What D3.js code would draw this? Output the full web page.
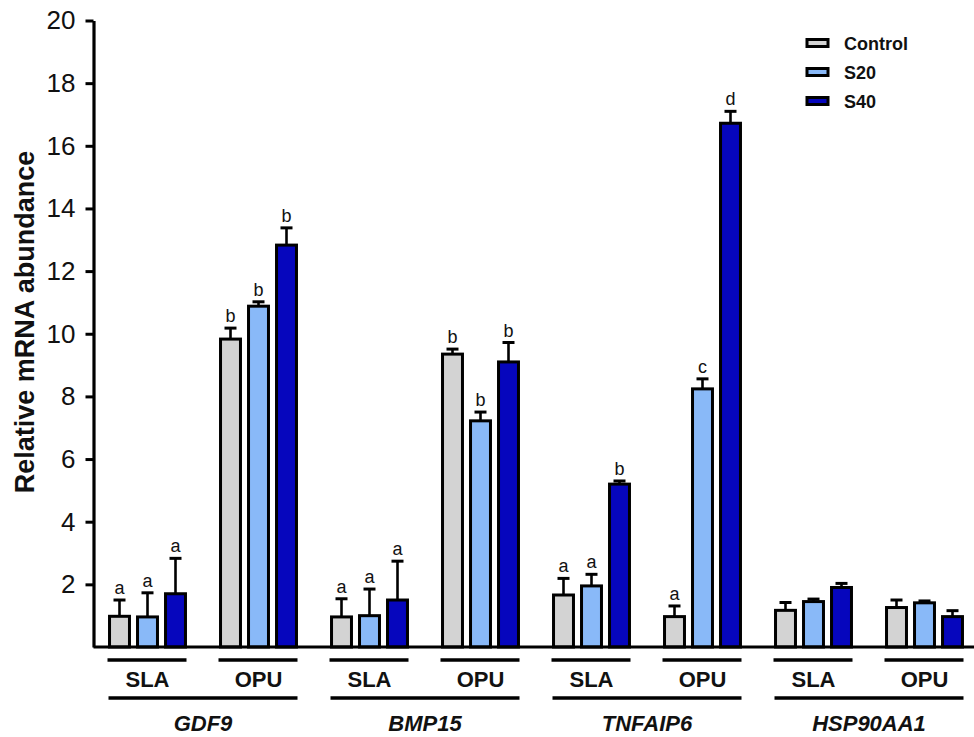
<!DOCTYPE html>
<html>
<head>
<meta charset="utf-8">
<script src="https://cdn.jsdelivr.net/npm/d3@7"></script>
<style>
  body { margin: 0; background: #fff; }
  svg { font-family: "Liberation Sans", Arial, sans-serif; }
</style>
</head>
<body>
<svg id="chart" width="974" height="737"></svg>
<script>
// groups: GDF9 SLA, GDF9 OPU, BMP15 SLA, BMP15 OPU, TNFAIP6 SLA, TNFAIP6 OPU, HSP90AA1 SLA, HSP90AA1 OPU
const genes = ["GDF9", "BMP15", "TNFAIP6", "HSP90AA1"];
const sites = ["SLA", "OPU"];
const series = ["Control", "S20", "S40"];
const colors = ["#d3d3d3", "#89b9f8", "#0606bd"];
const yTicks = [2, 4, 6, 8, 10, 12, 14, 16, 18, 20];

const controlMean = [0.98, 9.83, 0.96, 9.35, 1.66, 0.97, 1.17, 1.26];
const controlSem  = [0.52, 0.35, 0.58, 0.16, 0.53, 0.34, 0.25, 0.24];
const s20Mean = [0.96, 10.88, 1.0, 7.22, 1.95, 8.24, 1.45, 1.41];
const s20Sem  = [0.77, 0.14, 0.85, 0.28, 0.37, 0.32, 0.08, 0.06];
const s40Mean = [1.7, 12.83, 1.5, 9.1, 5.2, 16.72, 1.9, 0.97];
const s40Sem  = [1.13, 0.55, 1.24, 0.62, 0.1, 0.38, 0.13, 0.19];

const controlLetters = ["a", "b", "a", "b", "a", "a", "", ""];
const s20Letters = ["a", "b", "a", "b", "a", "c", "", ""];
const s40Letters = ["a", "b", "a", "b", "b", "d", "", ""];

const groups = [];
genes.forEach(g => sites.forEach(s => groups.push(g + "|" + s)));
const means = [controlMean, s20Mean, s40Mean];
const sems = [controlSem, s20Sem, s40Sem];
const letters = [controlLetters, s20Letters, s40Letters];

const data = [];
groups.forEach((grp, i) => {
  series.forEach((s, j) => {
    data.push({ group: grp, series: s, color: colors[j], mean: means[j][i], sem: sems[j][i], letter: letters[j][i] });
  });
});

const svg = d3.select("#chart");
const axisX = 93.5;

const x0 = d3.scaleBand().domain(groups).range([92, 980]);
const x1 = d3.scaleBand().domain(series).range([-42, 42]).paddingInner(0.18).paddingOuter(0.09);
const y = d3.scaleLinear().domain([0, 20]).range([647, 20.5]);
const cx = d => x0(d.group) + x0.bandwidth() / 2 + x1(d.series) + x1.bandwidth() / 2;

// y axis
const yAxis = d3.axisLeft(y).tickValues(yTicks).tickSize(8).tickSizeOuter(0).tickPadding(10);
const yg = svg.append("g").attr("transform", `translate(${axisX},0)`).call(yAxis);
yg.select(".domain").attr("stroke", "#000").attr("stroke-width", 3.2);
yg.selectAll(".tick line").attr("stroke", "#000").attr("stroke-width", 3);
yg.selectAll(".tick text").attr("font-size", 26).attr("fill", "#111").attr("font-family", "Liberation Sans, Arial, sans-serif");

svg.append("text")
  .attr("transform", `translate(34,322) rotate(-90)`)
  .attr("text-anchor", "middle")
  .attr("font-size", 27)
  .attr("font-weight", "bold")
  .attr("fill", "#111")
  .text("Relative mRNA abundance");

// error bars
const errs = svg.append("g").selectAll("g").data(data.filter(d => d.sem > 0)).join("g");
errs.append("line")
  .attr("x1", cx).attr("x2", cx)
  .attr("y1", d => y(d.mean))
  .attr("y2", d => y(d.mean + d.sem))
  .attr("stroke", "#000").attr("stroke-width", 2.6);
errs.append("line")
  .attr("x1", d => cx(d) - 6)
  .attr("x2", d => cx(d) + 6)
  .attr("y1", d => y(d.mean + d.sem))
  .attr("y2", d => y(d.mean + d.sem))
  .attr("stroke", "#000").attr("stroke-width", 3);

// bars
svg.append("g").selectAll("rect").data(data).join("rect")
  .attr("x", d => x0(d.group) + x0.bandwidth() / 2 + x1(d.series) + 1.5)
  .attr("y", d => y(d.mean))
  .attr("width", x1.bandwidth() - 3)
  .attr("height", d => y(0) - y(d.mean))
  .attr("fill", d => d.color)
  .attr("stroke", "#000")
  .attr("stroke-width", 3);

// significance letters
svg.append("g").selectAll("text").data(data.filter(d => d.letter)).join("text")
  .attr("x", cx)
  .attr("y", d => y(d.mean + d.sem) - 6)
  .attr("text-anchor", "middle")
  .attr("font-size", 18)
  .attr("fill", "#111")
  .text(d => d.letter);

// x baseline
svg.append("line")
  .attr("x1", axisX).attr("x2", 974)
  .attr("y1", y(0)).attr("y2", y(0))
  .attr("stroke", "#000").attr("stroke-width", 3.2);

// site underlines and labels
const siteG = svg.append("g").selectAll("g").data(groups).join("g")
  .attr("transform", d => `translate(${x0(d) + x0.bandwidth() / 2},0)`);
siteG.append("line")
  .attr("x1", -40).attr("x2", 39).attr("y1", 660).attr("y2", 660)
  .attr("stroke", "#000").attr("stroke-width", 3.3);
siteG.append("text")
  .attr("y", 687)
  .attr("text-anchor", "middle")
  .attr("font-size", 22)
  .attr("font-weight", "bold")
  .attr("fill", "#111")
  .text(d => d.split("|")[1]);

// gene underlines and labels
const geneG = svg.append("g").selectAll("g").data(genes).join("g");
geneG.append("line")
  .attr("x1", g => x0(g + "|SLA") + x0.bandwidth() / 2 - 39)
  .attr("x2", g => x0(g + "|OPU") + x0.bandwidth() / 2 + 39)
  .attr("y1", 698).attr("y2", 698)
  .attr("stroke", "#000").attr("stroke-width", 3.3);
geneG.append("text")
  .attr("x", g => x0(g + "|SLA") + x0.bandwidth())
  .attr("y", 731)
  .attr("text-anchor", "middle")
  .attr("font-size", 22)
  .attr("font-weight", "bold")
  .attr("font-style", "italic")
  .attr("fill", "#111")
  .text(g => g);

// legend
const leg = svg.append("g").selectAll("g").data(series).join("g")
  .attr("transform", (d, i) => `translate(807,${43 + i * 29})`);
leg.append("rect")
  .attr("x", 0).attr("y", -3.5).attr("width", 21).attr("height", 7)
  .attr("fill", (d, i) => colors[i])
  .attr("stroke", "#000").attr("stroke-width", 3);
leg.append("text")
  .attr("x", 37).attr("y", 6.5)
  .attr("font-size", 18)
  .attr("font-weight", "bold")
  .attr("fill", "#111")
  .text(d => d);
</script>
</body>
</html>
